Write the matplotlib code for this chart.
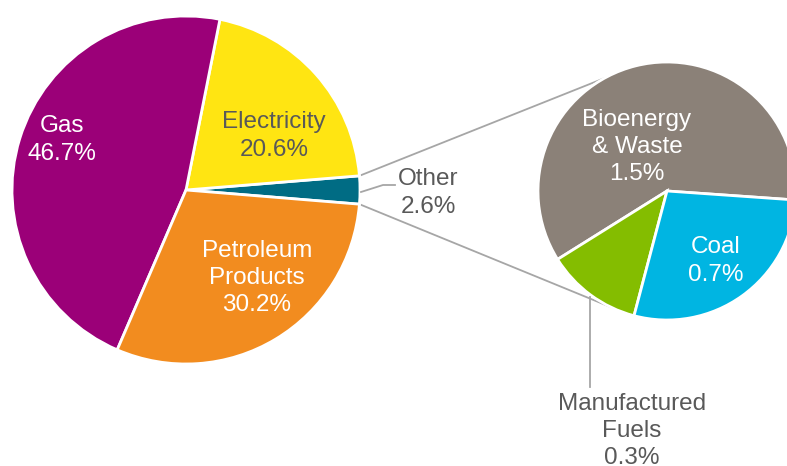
import numpy as np
import matplotlib.pyplot as plt

plt.rcParams['font.family'] = ['Liberation Sans', 'DejaVu Sans']

# main pie
main_labels = ['Other', 'Electricity', 'Gas', 'Petroleum\nProducts']
main_values = [2.6, 20.6, 46.7, 30.2]
main_colors = ['#006C84', '#FFE512', '#9B0078', '#F28C1F']

# breakdown of "Other"
sub_labels = ['Bioenergy\n& Waste', 'Manufactured\nFuels', 'Coal']
sub_values = [1.5, 0.3, 0.7]
sub_colors = ['#8B8178', '#84BD00', '#00B5E2']

W, H = 787, 466
fig = plt.figure(figsize=(W / 100, H / 100), dpi=100)
ax = fig.add_axes([0, 0, 1, 1])

c1, r1 = (186, 276), 174
c2, r2 = (667, 275), 129

other_half = 360 * main_values[0] / sum(main_values) / 2
wedge_kw = dict(edgecolor='white', linewidth=2)
ax.pie(main_values, colors=main_colors, startangle=-other_half,
       center=c1, radius=r1, wedgeprops=wedge_kw)
ax.pie(sub_values, colors=sub_colors, startangle=-4,
       center=c2, radius=r2, wedgeprops=wedge_kw)

# connector lines between the two pies
line_col = '#A6A6A6'
for a1, a2 in [(other_half, 119), (-other_half, -116)]:
    x1 = c1[0] + r1 * np.cos(np.radians(a1))
    y1 = c1[1] + r1 * np.sin(np.radians(a1))
    x2 = c2[0] + r2 * np.cos(np.radians(a2))
    y2 = c2[1] + r2 * np.sin(np.radians(a2))
    ax.plot([x1, x2], [y1, y2], color=line_col, lw=1.3, zorder=0)

# leader lines
ax.plot([361, 383, 395], [H - 192, H - 185, H - 185], color=line_col, lw=1.3)
ax.plot([590, 590], [H - 297, H - 387], color=line_col, lw=1.3)

grey = '#595959'
fs = 17.5
ls = 1.3
main_pct = [f'{v:.1f}%' for v in main_values]
main_pos = [(428, 193), (274, 136), (62, 140), (257, 278)]
main_tc = [grey, grey, 'white', 'white']
for lab, pct, (x, y), tc in zip(main_labels, main_pct, main_pos, main_tc):
    ax.text(x, H - y, f'{lab}\n{pct}', ha='center', va='center',
            color=tc, fontsize=fs, linespacing=ls)

sub_pct = [f'{v:.1f}%' for v in sub_values]
sub_pos = [(637, 147), (632, 431), (716, 261)]
sub_tc = ['white', grey, 'white']
for lab, pct, (x, y), tc in zip(sub_labels, sub_pct, sub_pos, sub_tc):
    ax.text(x, H - y, f'{lab}\n{pct}', ha='center', va='center',
            color=tc, fontsize=fs, linespacing=ls)

ax.set_xlim(0, W)
ax.set_ylim(0, H)
ax.set_aspect('equal')
ax.axis('off')

fig.savefig('out.png', dpi=100, facecolor='white')
